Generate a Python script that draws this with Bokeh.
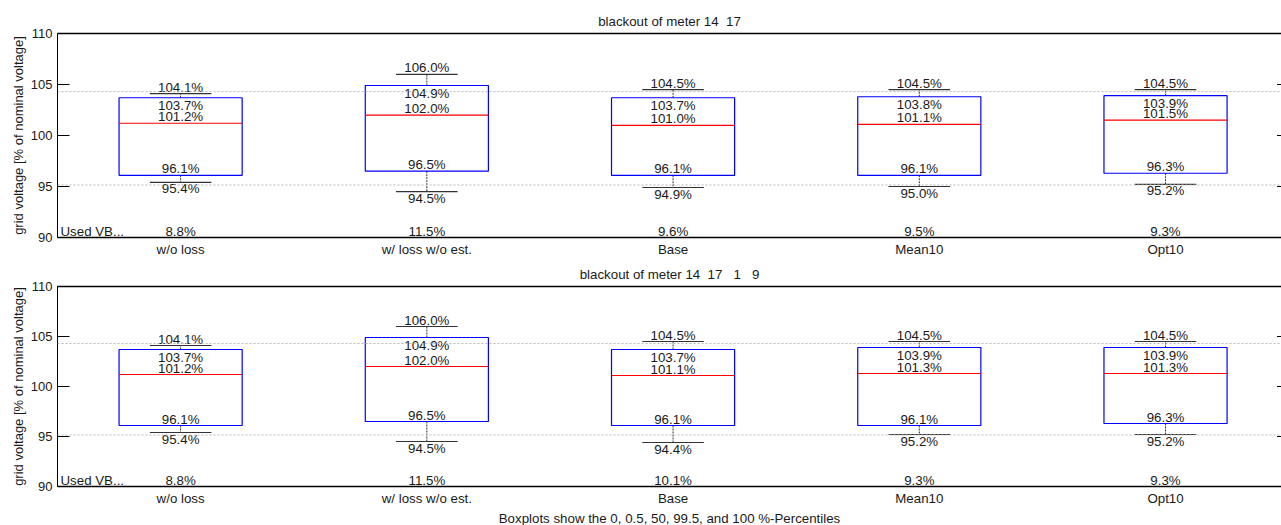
from bokeh.plotting import figure
from bokeh.models import Range1d, FixedTicker, LinearAxis, Span, Title, ColumnDataSource
from bokeh.layouts import column
from bokeh.embed import file_html
from bokeh.resources import INLINE
from bokeh.core.properties import value

# ---------------- data ----------------
categories = ["w/o loss", "w/ loss w/o est.", "Base", "Mean10", "Opt10"]
y_ticks = [90, 95, 100, 105, 110]
limit_lines = [104.3, 95.15]
vb_caption = "Used VB..."

top_title = "blackout of meter 14 \u00a017"
top_min = [95.4, 94.5, 94.9, 95.0, 95.2]
top_p05 = [96.1, 96.5, 96.1, 96.1, 96.3]
top_med = [101.2, 102.0, 101.0, 101.1, 101.5]
top_p995 = [103.7, 104.9, 103.7, 103.8, 103.9]
top_max = [104.1, 106.0, 104.5, 104.5, 104.5]
top_vb = [8.8, 11.5, 9.6, 9.5, 9.3]

bot_title = "blackout of meter 14 \u00a017 \u00a0\u00a01 \u00a0\u00a09"
bot_min = [95.4, 94.5, 94.4, 95.2, 95.2]
bot_p05 = [96.1, 96.5, 96.1, 96.1, 96.3]
bot_med = [101.2, 102.0, 101.1, 101.3, 101.3]
bot_p995 = [103.7, 104.9, 103.7, 103.9, 103.9]
bot_max = [104.1, 106.0, 104.5, 104.5, 104.5]
bot_vb = [8.8, 11.5, 10.1, 9.3, 9.3]

footer = "Boxplots show the 0, 0.5, 50, 99.5, and 100 %-Percentiles"
y_label = "grid voltage [% of nominal voltage]"

FONT = "Liberation Sans"
FS = "13.3px"
TXT = "#1a1a1a"
X_END = 4.971           # visible part of the 0..5 category axis


def pct(v):
    return ["%.1f%%" % x for x in v]


def make_panel(title, vmin, p05, med, p995, vmax, vb, height, top_border, bottom_border,
               title_gap, with_footer=False):
    xs = [i + 0.5 for i in range(len(categories))]
    src = ColumnDataSource(dict(
        x=xs,
        l=[x - 0.25 for x in xs], r=[x + 0.25 for x in xs],
        cl=[x - 0.125 for x in xs], cr=[x + 0.125 for x in xs],
        vmin=vmin, p05=p05, med=med, p995=p995, vmax=vmax,
        t_min=pct(vmin), t_p05=pct(p05), t_med=pct(med), t_p995=pct(p995), t_max=pct(vmax),
        t_vb=pct(vb), base=[y_ticks[0]] * len(xs),
    ))
    p = figure(width=1281, height=height, x_range=Range1d(0, X_END),
               y_range=Range1d(y_ticks[0], y_ticks[-1]),
               output_backend="svg", toolbar_location=None, tools="",
               min_border_left=57, min_border_right=0,
               min_border_top=top_border, min_border_bottom=bottom_border,
               x_axis_type=None, y_axis_type=None)
    p.outline_line_color = None
    p.xgrid.visible = False
    p.ygrid.visible = False
    p.background_fill_color = "white"
    p.border_fill_color = "white"

    p.title.text = title
    p.title.align = "center"
    p.title.text_font = FONT
    p.title.text_font_size = FS
    p.title.text_font_style = "normal"
    p.title.text_color = TXT

    # left axis
    ya = LinearAxis(ticker=FixedTicker(ticks=y_ticks), axis_label=y_label)
    ya.major_tick_in = 12
    ya.major_tick_out = 0
    ya.minor_tick_line_color = None
    ya.major_label_text_font = FONT
    ya.major_label_text_font_size = "13px"
    ya.major_label_text_color = TXT
    ya.major_label_standoff = 5
    ya.axis_label_text_font = FONT
    ya.axis_label_text_font_size = "13px"
    ya.axis_label_text_font_style = "normal"
    ya.axis_label_text_color = TXT
    ya.axis_label_standoff = 2
    ya.axis_line_color = "black"
    p.add_layout(ya, "left")

    # bottom axis
    xa = LinearAxis(ticker=FixedTicker(ticks=xs),
                    major_label_overrides={x: c for x, c in zip(xs, categories)})
    xa.major_tick_line_color = None
    xa.minor_tick_line_color = None
    xa.major_label_text_font = FONT
    xa.major_label_text_font_size = FS
    xa.major_label_text_color = TXT
    xa.major_label_standoff = -2
    xa.axis_line_color = "black"
    xa.axis_line_width = 1.5
    p.add_layout(xa, "below")

    # top frame line (its invisible tick extent pushes the title up)
    ta = LinearAxis(ticker=FixedTicker(ticks=[]))
    ta.major_tick_line_color = None
    ta.minor_tick_line_color = None
    ta.major_tick_in = 0
    ta.major_tick_out = title_gap
    ta.axis_line_color = "black"
    ta.axis_line_width = 1.5
    p.add_layout(ta, "above")

    # short inward ticks at the right edge
    tick_len = 0.018
    p.segment(x0=[X_END - tick_len] * len(y_ticks), y0=y_ticks, x1=[X_END] * len(y_ticks),
              y1=y_ticks, line_color="black", line_width=1)

    for v in limit_lines:
        p.add_layout(Span(location=v, dimension="width", line_color="#b8b8b8",
                          line_dash="2 2", line_width=1))

    # whisker connectors
    p.segment(x0="x", y0="p995", x1="x", y1="vmax", source=src, line_color="#333333",
              line_dash="2 1", line_width=1)
    p.segment(x0="x", y0="p05", x1="x", y1="vmin", source=src, line_color="#333333",
              line_dash="2 1", line_width=1)
    # caps
    p.segment(x0="cl", y0="vmax", x1="cr", y1="vmax", source=src, line_color="#333333",
              line_width=1.2)
    p.segment(x0="cl", y0="vmin", x1="cr", y1="vmin", source=src, line_color="#333333",
              line_width=1.2)
    # boxes
    p.quad(left="l", right="r", bottom="p05", top="p995", source=src,
           fill_color=None, line_color="#0000ff", line_width=1.2)
    # median
    p.segment(x0="l", y0="med", x1="r", y1="med", source=src, line_color="#ff0000",
              line_width=1.2)

    common = dict(source=src, text_font=value(FONT), text_font_size=FS,
                  text_color=TXT, text_align="center")
    p.text(x="x", y="vmax", text="t_max", text_baseline="bottom", y_offset=1, **common)
    p.text(x="x", y="p995", text="t_p995", text_baseline="top", y_offset=0, **common)
    p.text(x="x", y="med", text="t_med", text_baseline="bottom", y_offset=1, **common)
    p.text(x="x", y="p05", text="t_p05", text_baseline="bottom", y_offset=1, **common)
    p.text(x="x", y="vmin", text="t_min", text_baseline="top", y_offset=-1, **common)
    p.text(x="x", y="base", text="t_vb", text_baseline="bottom", y_offset=1, **common)
    p.text(x=[0], y=[y_ticks[0]], text=[vb_caption], text_baseline="bottom", y_offset=1,
           x_offset=3, text_align="left", text_font=value(FONT), text_font_size=FS,
           text_color=TXT)

    if with_footer:
        ft = Title(text=footer, align="center", text_font=FONT, text_font_size=FS,
                   text_font_style="normal", text_color=TXT, standoff=0)
        p.add_layout(ft, "below")
    return p


p1 = make_panel(top_title, top_min, top_p05, top_med, top_p995, top_max, top_vb,
                height=259, top_border=33, bottom_border=22, title_gap=3)
p2 = make_panel(bot_title, bot_min, bot_p05, bot_med, bot_p995, bot_max, bot_vb,
                height=266, top_border=25, bottom_border=36, title_gap=10,
                with_footer=True)

layout = column(p1, p2, spacing=0)
open("out.html", "w").write(file_html(layout, INLINE))
